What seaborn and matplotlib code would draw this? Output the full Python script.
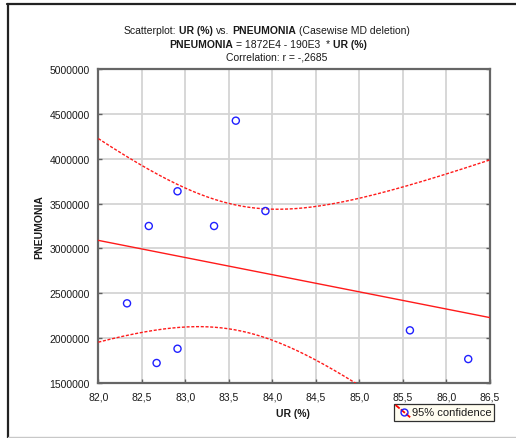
import numpy as np
import pandas as pd
import matplotlib
matplotlib.use("Agg")
import matplotlib.pyplot as plt
from matplotlib.lines import Line2D
from matplotlib.patches import Rectangle
from matplotlib.ticker import FuncFormatter
import seaborn as sns

# Observations: urbanisation rate (%) and pneumonia count
ur_pct = [82.33, 82.58, 82.67, 82.91, 82.91, 83.33, 83.58, 83.92, 85.58, 86.25]
pneumonia = [2388000, 3250000, 1723000, 3637000, 1882000, 3250000, 4424000, 3417000, 2087000, 1767000]

x_ticks = [82.0, 82.5, 83.0, 83.5, 84.0, 84.5, 85.0, 85.5, 86.0, 86.5]
y_ticks = [1500000, 2000000, 2500000, 3000000, 3500000, 4000000, 4500000, 5000000]

title_line1 = [("Scatterplot:", "normal"), ("UR (%)", "bold"), ("vs.", "normal"),
               ("PNEUMONIA", "bold"), ("(Casewise MD deletion)", "normal")]
title_line2 = [("PNEUMONIA", "bold"), ("= 1872E4 - 190E3  *", "normal"), ("UR (%)", "bold")]
title_line3 = [("Correlation: r = -,2685", "normal")]
legend_label = "95% confidence"
x_label = "UR (%)"
y_label = "PNEUMONIA"

T_CRIT = 2.306  # Student t, 0.975 quantile, 8 degrees of freedom

W, H = 516, 439
TEXT = "#1a1a1a"
FS = 7.5

sns.set_theme(style="white")
plt.rcParams["font.family"] = ["Liberation Sans", "DejaVu Sans"]

df = pd.DataFrame({"ur": ur_pct, "pn": pneumonia})

# Linear fit and 95% confidence band for the mean
x = np.asarray(ur_pct, float)
y = np.asarray(pneumonia, float)
n = len(x)
slope, intercept = np.polyfit(x, y, 1)
resid = y - (intercept + slope * x)
s = np.sqrt(np.sum(resid ** 2) / (n - 2))
sxx = np.sum((x - x.mean()) ** 2)
grid = np.linspace(x_ticks[0], x_ticks[-1], 300)
fit = intercept + slope * grid
half = T_CRIT * s * np.sqrt(1.0 / n + (grid - x.mean()) ** 2 / sxx)
band = pd.DataFrame({"x": grid, "fit": fit, "lo": fit - half, "hi": fit + half})

fig = plt.figure(figsize=(W / 100, H / 100), dpi=100)
fig.patch.set_facecolor("white")
ax = fig.add_axes([98.3 / W, 1 - 384 / H, 391.7 / W, 314 / H])
ax.set_facecolor("white")

ax.grid(True, color="#d4d4d4", linewidth=1.3)
ax.set_axisbelow(True)

sns.lineplot(data=band, x="x", y="fit", ax=ax, color="#ff1a1a", linewidth=1.0,
             estimator=None, sort=False, zorder=3)
for col in ("lo", "hi"):
    sns.lineplot(data=band, x="x", y=col, ax=ax, color="#ff1a1a", linewidth=1.0,
                 dashes=False, estimator=None, sort=False, zorder=3,
                 linestyle=(0, (2.2, 1.2)))

sns.scatterplot(data=df, x="ur", y="pn", ax=ax, marker="o", s=26,
                facecolors="none", edgecolor="#2020ff", linewidth=1.0, zorder=4)

ax.set_xlim(x_ticks[0], x_ticks[-1])
ax.set_ylim(y_ticks[0], y_ticks[-1])
ax.set_xticks(x_ticks)
ax.set_yticks(y_ticks)
ax.xaxis.set_major_formatter(FuncFormatter(lambda v, p: f"{v:.1f}".replace(".", ",")))
ax.yaxis.set_major_formatter(FuncFormatter(lambda v, p: f"{int(round(v))}"))
ax.tick_params(direction="in", length=3, width=1, colors="#606060",
               labelcolor=TEXT, labelsize=FS, pad=6, right=True, left=True,
               bottom=True, top=False)
for sp in ax.spines.values():
    sp.set_color("#666666")
    sp.set_linewidth(1.6)

ax.set_xlabel(x_label, fontsize=FS, fontweight="bold", color=TEXT)
ax.set_ylabel(y_label, fontsize=FS, fontweight="bold", color=TEXT)
ax.xaxis.label.set_verticalalignment("center")
ax.yaxis.label.set_verticalalignment("center")
ax.xaxis.set_label_coords((293 - 98.3) / 391.7, (384 - 414) / 314)
ax.yaxis.set_label_coords((39 - 98.3) / 391.7, 0.5)


def fx(px):
    return px / W


def fy(py):
    return 1 - py / H


def draw_segments(segments, cx, cy):
    texts = [fig.text(0, 0, t, fontsize=FS, fontweight=w, color=TEXT,
                      ha="left", va="center") for t, w in segments]
    probe_a = fig.text(0, 0, "x x", fontsize=FS)
    probe_b = fig.text(0, 0, "xx", fontsize=FS)
    fig.canvas.draw()
    r = fig.canvas.get_renderer()
    space = probe_a.get_window_extent(r).width - probe_b.get_window_extent(r).width
    probe_a.remove()
    probe_b.remove()
    widths = [t.get_window_extent(r).width for t in texts]
    total = sum(widths) + space * (len(texts) - 1)
    pos = cx - total / 2
    for t, w in zip(texts, widths):
        t.set_position((fx(pos), fy(cy)))
        pos += w + space


draw_segments(title_line1, 267, 30.5)
draw_segments(title_line2, 268, 44.5)
draw_segments(title_line3, 277, 57)

# Legend box with a diagonal dashed-line-and-circle key
fig.add_artist(Rectangle((fx(394), fy(422)), 100 / W, 17 / H, transform=fig.transFigure,
                         facecolor="#fffdf0", edgecolor="#303030", linewidth=0.9,
                         zorder=10))
fig.add_artist(Line2D([fx(395.5), fx(411)], [fy(406), fy(419)], transform=fig.transFigure,
                      color="#ff0000", linewidth=1.3, linestyle=(0, (3.0, 0.8)),
                      zorder=11))
fig.add_artist(Line2D([fx(403.5)], [fy(412.5)], transform=fig.transFigure, marker="o",
                      markersize=5.0, markerfacecolor="none", markeredgecolor="#2020ff",
                      markeredgewidth=1.0, linestyle="none", zorder=12))
fig.text(fx(412.5), fy(413.5), legend_label, fontsize=8, color=TEXT, ha="left",
         va="center", zorder=12)

# Outer frame
fig.add_artist(Line2D([fx(7), 1], [fy(5), fy(5)], transform=fig.transFigure,
                      color="#222222", linewidth=1.6))
fig.add_artist(Line2D([fx(8), fx(8)], [fy(5), 0], transform=fig.transFigure,
                      color="#222222", linewidth=1.6))
fig.add_artist(Line2D([fx(8), 1], [fy(438), fy(438)], transform=fig.transFigure,
                      color="#c8c8c8", linewidth=1.0))

fig.savefig("out.png", dpi=100, facecolor="white")
